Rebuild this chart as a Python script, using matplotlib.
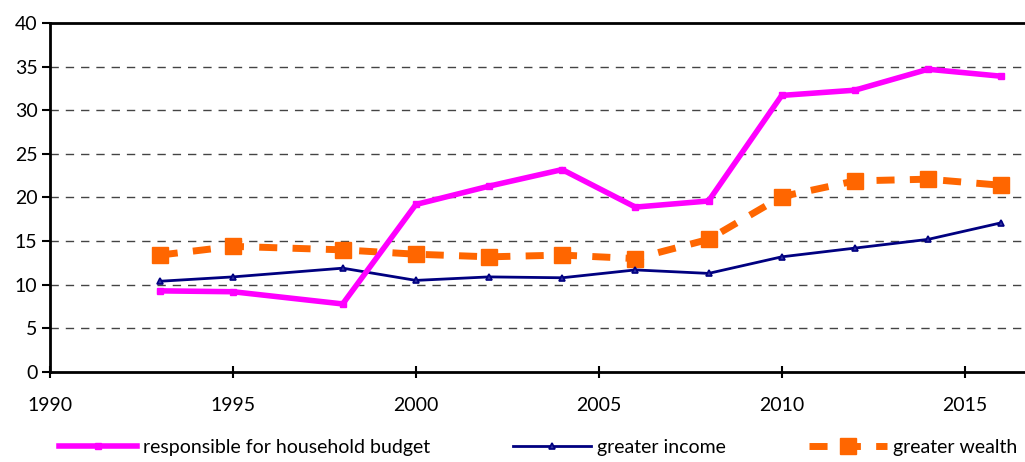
import numpy as np
import matplotlib.pyplot as plt

years = [1993, 1995, 1998, 2000, 2002, 2004, 2006, 2008, 2010, 2012, 2014, 2016]
budget = [9.3, 9.2, 7.8, 19.2, 21.3, 23.2, 18.9, 19.6, 31.7, 32.3, 34.7, 33.9]
income = [10.4, 10.9, 11.9, 10.5, 10.9, 10.8, 11.7, 11.3, 13.2, 14.2, 15.2, 17.1]
wealth = [13.4, 14.4, 14.0, 13.5, 13.2, 13.4, 13.0, 15.2, 20.1, 21.9, 22.1, 21.4]

plt.rcParams['font.family'] = ['Lato', 'DejaVu Sans']

fig = plt.figure(figsize=(10.25, 4.62), dpi=100)
ax = fig.add_axes([50/1025, 90/462, 975/1025, 349/462])

ax.plot(years, budget, color='#ff00ff', lw=4, marker='s', ms=5,
        label='responsible for household budget', zorder=4)
ax.plot(years, income, color='#000080', lw=2, marker='^', ms=5, mfc='#3030a0',
        mew=1.2, label='greater income', zorder=3)
ax.plot(years, wealth, color='#ff6600', lw=5, ls=(0, (2.6, 2.2)), marker='s', ms=11,
        label='greater wealth', zorder=2)

ax.set_xlim(1990, 2016.65)
ax.set_ylim(0, 40)
ax.set_xticks(range(1990, 2016, 5))
ax.set_yticks(range(0, 41, 5))
for y in range(5, 40, 5):
    ax.axhline(y, color='#444444', lw=1, ls=(0, (6, 5)), zorder=1)

ax.spines['right'].set_visible(False)
ax.spines['left'].set_linewidth(2)
ax.spines['bottom'].set_linewidth(2)
ax.spines['top'].set_linewidth(2)
ax.tick_params(axis='y', direction='out', length=6, width=1.5, labelsize=14, pad=3)
ax.tick_params(axis='x', direction='inout', length=8, width=1.5, labelsize=14, pad=14)

fig.legend(loc='lower center', bbox_to_anchor=(0.525, -0.025), ncol=3, frameon=False,
           fontsize=14, columnspacing=4.3, handlelength=4.0, handletextpad=0.3)

fig.savefig('out.png', dpi=100)
